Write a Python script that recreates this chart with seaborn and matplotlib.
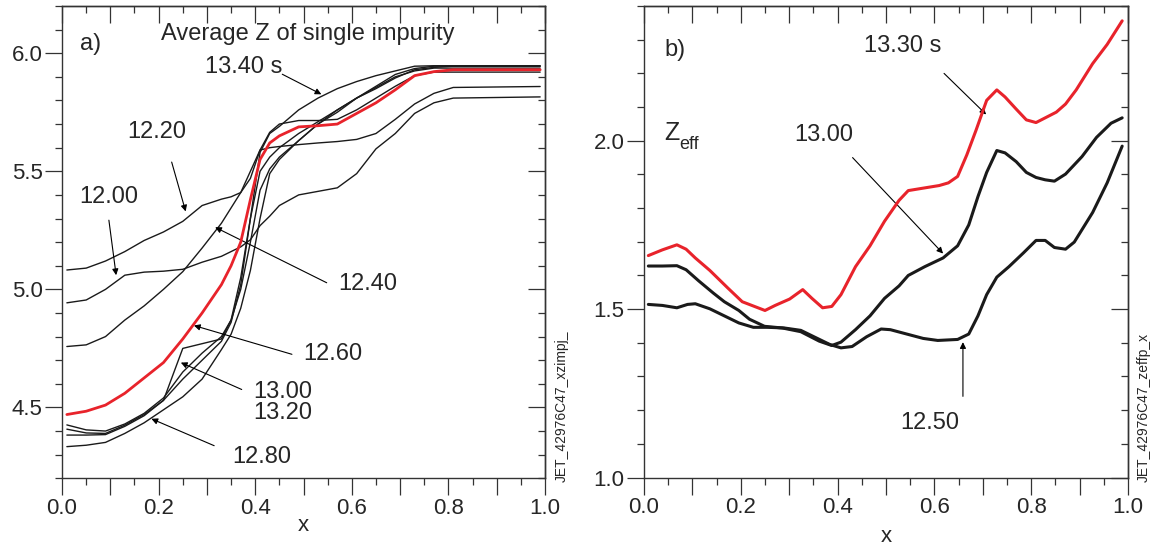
import numpy as np
import pandas as pd
import matplotlib
matplotlib.use("Agg")
import matplotlib.pyplot as plt
from matplotlib.ticker import MultipleLocator, FuncFormatter
import seaborn as sns

# ---------------- data: panel a (average Z of single impurity) ----------------
XA = [0.01, 0.05, 0.09, 0.13, 0.17, 0.21, 0.25, 0.29, 0.33, 0.35, 0.37, 0.39,
      0.41, 0.43, 0.45, 0.49, 0.53, 0.57, 0.61, 0.65, 0.69, 0.73, 0.77, 0.81, 0.99]
z_1200 = [4.943, 4.955, 5.00, 5.06, 5.073, 5.077, 5.085, 5.115, 5.14, 5.16, 5.18, 5.21,
          5.27, 5.31, 5.355, 5.40, 5.415, 5.43, 5.49, 5.595, 5.66, 5.745, 5.79, 5.81, 5.815]
z_1220 = [5.082, 5.09, 5.12, 5.16, 5.207, 5.243, 5.288, 5.355, 5.382, 5.392, 5.41, 5.47,
          5.59, 5.60, 5.605, 5.613, 5.62, 5.626, 5.635, 5.66, 5.72, 5.785, 5.83, 5.855, 5.859]
z_1240 = [4.758, 4.765, 4.80, 4.87, 4.93, 5.00, 5.075, 5.175, 5.28, 5.345, 5.41, 5.50,
          5.59, 5.665, 5.70, 5.715, 5.715, 5.72, 5.76, 5.81, 5.86, 5.905, 5.92, 5.92, 5.92]
z_1260 = [4.47, 4.484, 4.51, 4.56, 4.625, 4.69, 4.79, 4.90, 5.02, 5.10, 5.20, 5.38,
          5.55, 5.62, 5.65, 5.688, 5.693, 5.70, 5.745, 5.79, 5.845, 5.905, 5.922, 5.93, 5.93]
z_1280 = [4.334, 4.34, 4.352, 4.39, 4.435, 4.49, 4.545, 4.62, 4.745, 4.81, 4.92, 5.08,
          5.30, 5.49, 5.55, 5.63, 5.70, 5.76, 5.81, 5.85, 5.895, 5.93, 5.94, 5.945, 5.945]
z_1300 = [4.426, 4.405, 4.40, 4.43, 4.475, 4.54, 4.65, 4.73, 4.80, 4.87, 5.00, 5.20,
          5.42, 5.51, 5.56, 5.63, 5.70, 5.75, 5.81, 5.86, 5.91, 5.935, 5.945, 5.945, 5.945]
z_1320 = [4.408, 4.392, 4.39, 4.425, 4.47, 4.53, 4.75, 4.77, 4.79, 4.87, 5.05, 5.30,
          5.50, 5.56, 5.60, 5.66, 5.71, 5.76, 5.81, 5.855, 5.90, 5.925, 5.937, 5.937, 5.937]
z_1340 = [4.383, 4.383, 4.385, 4.42, 4.465, 4.53, 4.62, 4.70, 4.78, 4.86, 5.02, 5.30,
          5.58, 5.66, 5.69, 5.76, 5.81, 5.85, 5.88, 5.905, 5.925, 5.945, 5.947, 5.947, 5.947]

# ---------------- data: panel b (Zeff) ----------------
xb_1330 = [0.009, 0.038, 0.068, 0.087, 0.106, 0.136, 0.173, 0.203, 0.25, 0.271, 0.301,
           0.328, 0.347, 0.369, 0.388, 0.407, 0.437, 0.467, 0.497, 0.527, 0.546, 0.58,
           0.61, 0.629, 0.648, 0.667, 0.686, 0.708, 0.729, 0.746, 0.769, 0.79, 0.81,
           0.829, 0.852, 0.871, 0.893, 0.927, 0.957, 0.988]
zeff_1330 = [1.659, 1.676, 1.691, 1.678, 1.652, 1.615, 1.563, 1.522, 1.496, 1.511, 1.53,
             1.558, 1.532, 1.504, 1.508, 1.543, 1.626, 1.688, 1.761, 1.823, 1.852, 1.86,
             1.867, 1.875, 1.894, 1.958, 2.031, 2.12, 2.151, 2.13, 2.094, 2.062, 2.054,
             2.068, 2.085, 2.109, 2.151, 2.229, 2.286, 2.356]
xb_1300 = [0.009, 0.038, 0.068, 0.087, 0.113, 0.143, 0.166, 0.196, 0.218, 0.249, 0.286,
           0.324, 0.362, 0.388, 0.407, 0.437, 0.467, 0.497, 0.527, 0.546, 0.58, 0.618,
           0.648, 0.671, 0.69, 0.708, 0.729, 0.746, 0.769, 0.79, 0.81, 0.829, 0.848,
           0.871, 0.905, 0.935, 0.965, 0.988]
zeff_1300 = [1.628, 1.628, 1.629, 1.617, 1.584, 1.548, 1.522, 1.496, 1.47, 1.449, 1.444,
             1.433, 1.405, 1.392, 1.402, 1.439, 1.48, 1.532, 1.569, 1.60, 1.626, 1.652,
             1.688, 1.75, 1.834, 1.906, 1.971, 1.964, 1.938, 1.906, 1.891, 1.884, 1.88,
             1.901, 1.953, 2.01, 2.052, 2.068]
xb_1250 = [0.009, 0.038, 0.068, 0.09, 0.106, 0.136, 0.166, 0.196, 0.226, 0.256, 0.29,
           0.324, 0.354, 0.384, 0.407, 0.43, 0.46, 0.49, 0.509, 0.543, 0.577, 0.607,
           0.648, 0.671, 0.69, 0.708, 0.729, 0.754, 0.784, 0.81, 0.829, 0.848, 0.871,
           0.889, 0.927, 0.957, 0.988]
zeff_1250 = [1.514, 1.511, 1.504, 1.514, 1.516, 1.501, 1.48, 1.459, 1.446, 1.446, 1.444,
             1.437, 1.416, 1.395, 1.385, 1.389, 1.418, 1.441, 1.439, 1.426, 1.413, 1.407,
             1.41, 1.426, 1.48, 1.543, 1.595, 1.626, 1.667, 1.704, 1.704, 1.683, 1.678,
             1.699, 1.787, 1.875, 1.984]

RED = "#e8232b"
INK = "#1a1a1a"

sns.set_theme(style="ticks")
plt.rcParams["font.family"] = ["Liberation Sans", "DejaVu Sans"]

fig = plt.figure(figsize=(11.51, 5.49), dpi=100)
axa = fig.add_axes([0.0539, 0.1288, 0.4196, 0.8603])
axb = fig.add_axes([0.5595, 0.1302, 0.4205, 0.8588])

# long-form table for panel a
rows = []
for lab, ys in [("12.00", z_1200), ("12.20", z_1220), ("12.40", z_1240),
                ("12.80", z_1280), ("13.00", z_1300), ("13.20", z_1320),
                ("13.40", z_1340), ("12.60", z_1260)]:
    for xv, yv in zip(XA, ys):
        rows.append((lab, xv, yv))
dfa = pd.DataFrame(rows, columns=["t", "x", "z"])
for lab, g in dfa.groupby("t", sort=False):
    red = lab == "12.60"
    sns.lineplot(data=g, x="x", y="z", ax=axa, sort=False, estimator=None,
                 color=RED if red else INK, lw=2.0 if red else 1.0,
                 zorder=4 if red else 3, legend=False)

rowsb = []
for lab, xs, ys in [("12.50", xb_1250, zeff_1250), ("13.00", xb_1300, zeff_1300),
                    ("13.30", xb_1330, zeff_1330)]:
    for xv, yv in zip(xs, ys):
        rowsb.append((lab, xv, yv))
dfb = pd.DataFrame(rowsb, columns=["t", "x", "zeff"])
for lab, g in dfb.groupby("t", sort=False):
    red = lab == "13.30"
    sns.lineplot(data=g, x="x", y="zeff", ax=axb, sort=False, estimator=None,
                 color=RED if red else INK, lw=2.2, zorder=4 if red else 3,
                 legend=False)

TICK_FS = 16


def style_axes(ax, ylim, ymaj, ymin_, xlabpad):
    ax.set_xlim(0, 1)
    ax.set_ylim(*ylim)
    ax.set_xlabel("x", fontsize=TICK_FS, labelpad=xlabpad)
    ax.set_ylabel("")
    for s in ax.spines.values():
        s.set_visible(True)
        s.set_linewidth(1.0)
        s.set_color("#333333")
    ax.xaxis.set_major_locator(MultipleLocator(0.1))
    ax.xaxis.set_minor_locator(MultipleLocator(0.05))
    ax.xaxis.set_major_formatter(FuncFormatter(
        lambda v, p: f"{v:.1f}" if abs(round(v / 0.2) * 0.2 - v) < 1e-6 else ""))
    ax.yaxis.set_major_locator(MultipleLocator(ymaj))
    ax.yaxis.set_minor_locator(MultipleLocator(ymin_))
    ax.yaxis.set_major_formatter(FuncFormatter(lambda v, p: f"{v:.1f}"))
    ax.tick_params(which="major", direction="out", length=12, width=0.9,
                   labelsize=TICK_FS, pad=2, color="#333333", top=False, right=False)
    ax.tick_params(which="minor", direction="out", length=5, width=0.9,
                   color="#333333", top=False, right=False)
    sy = ax.secondary_yaxis("right")
    sy.yaxis.set_major_locator(MultipleLocator(ymaj))
    sy.yaxis.set_minor_locator(MultipleLocator(ymin_))
    sy.tick_params(which="major", direction="in", length=12, width=0.9,
                   labelright=False, color="#333333")
    sy.tick_params(which="minor", direction="in", length=5, width=0.9,
                   color="#333333")
    sx = ax.secondary_xaxis("top")
    sx.xaxis.set_major_locator(MultipleLocator(0.1))
    sx.xaxis.set_minor_locator(MultipleLocator(0.05))
    sx.tick_params(which="major", direction="in", length=12, width=0.9,
                   labeltop=False, color="#333333")
    sx.tick_params(which="minor", direction="in", length=5, width=0.9,
                   color="#333333")
    for sec in (sy, sx):
        for s in sec.spines.values():
            s.set_linewidth(1.0)
            s.set_color("#333333")


style_axes(axa, (4.2, 6.2), 0.5, 0.1, -3)
style_axes(axb, (1.0, 2.4), 0.5, 0.1, 6)

ARW = dict(arrowstyle="-|>", lw=0.8, color="black", mutation_scale=9,
           shrinkA=0, shrinkB=0)
LFS = 17

# panel a texts
axa.text(0.059, 6.037, "a)", fontsize=LFS, ha="center", va="center")
axa.text(0.508, 6.082, "Average Z of single impurity", fontsize=LFS, ha="center", va="center")
axa.text(0.376, 5.94, "13.40 s", fontsize=LFS, ha="center", va="center")
axa.annotate("", xy=(0.537, 5.826), xytext=(0.456, 5.911), arrowprops=ARW)
axa.text(0.196, 5.668, "12.20", fontsize=LFS, ha="center", va="center")
axa.annotate("", xy=(0.256, 5.33), xytext=(0.227, 5.539), arrowprops=ARW)
axa.text(0.096, 5.393, "12.00", fontsize=LFS, ha="center", va="center")
axa.annotate("", xy=(0.112, 5.06), xytext=(0.097, 5.293), arrowprops=ARW)
axa.text(0.632, 5.021, "12.40", fontsize=LFS, ha="center", va="center")
axa.annotate("", xy=(0.317, 5.263), xytext=(0.548, 5.028), arrowprops=ARW)
axa.text(0.56, 4.728, "12.60", fontsize=LFS, ha="center", va="center")
axa.annotate("", xy=(0.273, 4.847), xytext=(0.476, 4.725), arrowprops=ARW)
axa.text(0.456, 4.567, "13.00", fontsize=LFS, ha="center", va="center")
axa.text(0.456, 4.478, "13.20", fontsize=LFS, ha="center", va="center")
axa.annotate("", xy=(0.246, 4.69), xytext=(0.372, 4.576), arrowprops=ARW)
axa.text(0.414, 4.289, "12.80", fontsize=LFS, ha="center", va="center")
axa.annotate("", xy=(0.185, 4.452), xytext=(0.315, 4.338), arrowprops=ARW)

# panel b texts
axb.text(0.064, 2.27, "b)", fontsize=LFS, ha="center", va="center")
axb.text(0.535, 2.281, "13.30 s", fontsize=LFS, ha="center", va="center")
axb.annotate("", xy=(0.707, 2.078), xytext=(0.62, 2.20), arrowprops=ARW)
axb.text(0.074, 2.022, "Z", fontsize=LFS + 1, ha="right", va="center")
axb.text(0.072, 1.99, "eff", fontsize=13, ha="left", va="center")
axb.text(0.371, 2.016, "13.00", fontsize=LFS, ha="center", va="center")
axb.annotate("", xy=(0.618, 1.665), xytext=(0.431, 1.95), arrowprops=ARW)
axb.text(0.59, 1.163, "12.50", fontsize=LFS, ha="center", va="center")
axb.annotate("", xy=(0.659, 1.402), xytext=(0.659, 1.241), arrowprops=ARW)

fig.text(0.4885, 1 - 482 / 549, "JET_42976C47_xzimpj_", rotation=90,
         fontsize=10, ha="center", va="bottom")
fig.text(0.9935, 1 - 482 / 549, "JET_42976C47_zeffp_x", rotation=90,
         fontsize=10, ha="center", va="bottom")

fig.savefig("out.png", dpi=100)
